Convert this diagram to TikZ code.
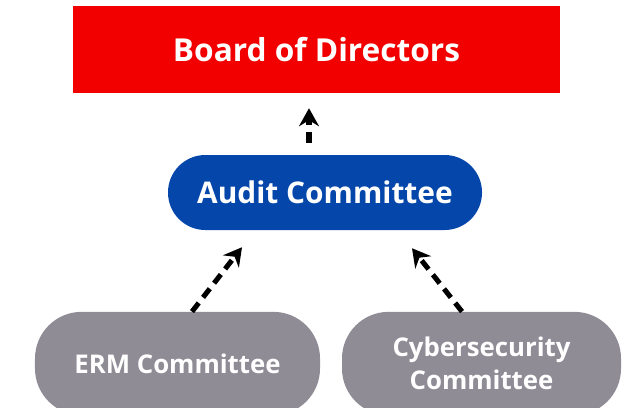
\documentclass[tikz,border=0pt]{standalone}
\usepackage{fontspec}
\setmainfont{Open Sans}
\usetikzlibrary{arrows.meta, calc}

\begin{document}
\begin{tikzpicture}[x=0.3mm,y=-0.3mm,
    box/.style={fill=#1, text=white, inner sep=0pt, align=center},
    link/.style={-{Stealth[length=5.4mm,width=6mm,inset=1.8mm]}, line width=4.3pt,
      dash pattern=on 3.3mm off 2.1mm}]
  \definecolor{boardred}{RGB}{242,0,0}
  \definecolor{auditblue}{RGB}{4,70,170}
  \definecolor{cmtgray}{RGB}{143,140,150}
  \useasboundingbox (0,0) rectangle (628,407);
  % top level
  \node[box=boardred, minimum width=146.1mm, minimum height=26.1mm,
    font=\fontsize{27}{32}\selectfont\bfseries] (board) at (316.5,49.5) {Board of Directors};
  \node[box=auditblue, minimum width=94.2mm, minimum height=22.5mm, rounded corners=11.2mm,
    font=\fontsize{25.5}{30}\selectfont\bfseries] (audit) at (325,192.5) {Audit Committee};
  % committees below, cut at the page edge
  \node[box=cmtgray, minimum width=85.5mm, minimum height=31mm, rounded corners=14mm,
    font=\fontsize{22}{28}\selectfont\bfseries] (erm) at (177.5,363.5) {ERM Committee};
  \node[box=cmtgray, minimum width=83.7mm, minimum height=31mm, rounded corners=14mm,
    font=\fontsize{22}{28}\selectfont\bfseries] (cyber) at (481.5,363.5) {Cybersecurity\\Committee};
  % reporting lines
  \draw[link, shorten <=3.6mm, shorten >=4.5mm] ([xshift=-4.8mm]audit.north)
    -- ([xshift=-4.8mm]audit.north |- board.south);
  \draw[link] ([xshift=4.35mm]erm.north) -- ([xshift=-24.9mm,yshift=-5.1mm]audit.south);
  \draw[link] ([xshift=-5.85mm]cyber.north) -- ([xshift=26.1mm,yshift=-5.4mm]audit.south);
\end{tikzpicture}
\end{document}
